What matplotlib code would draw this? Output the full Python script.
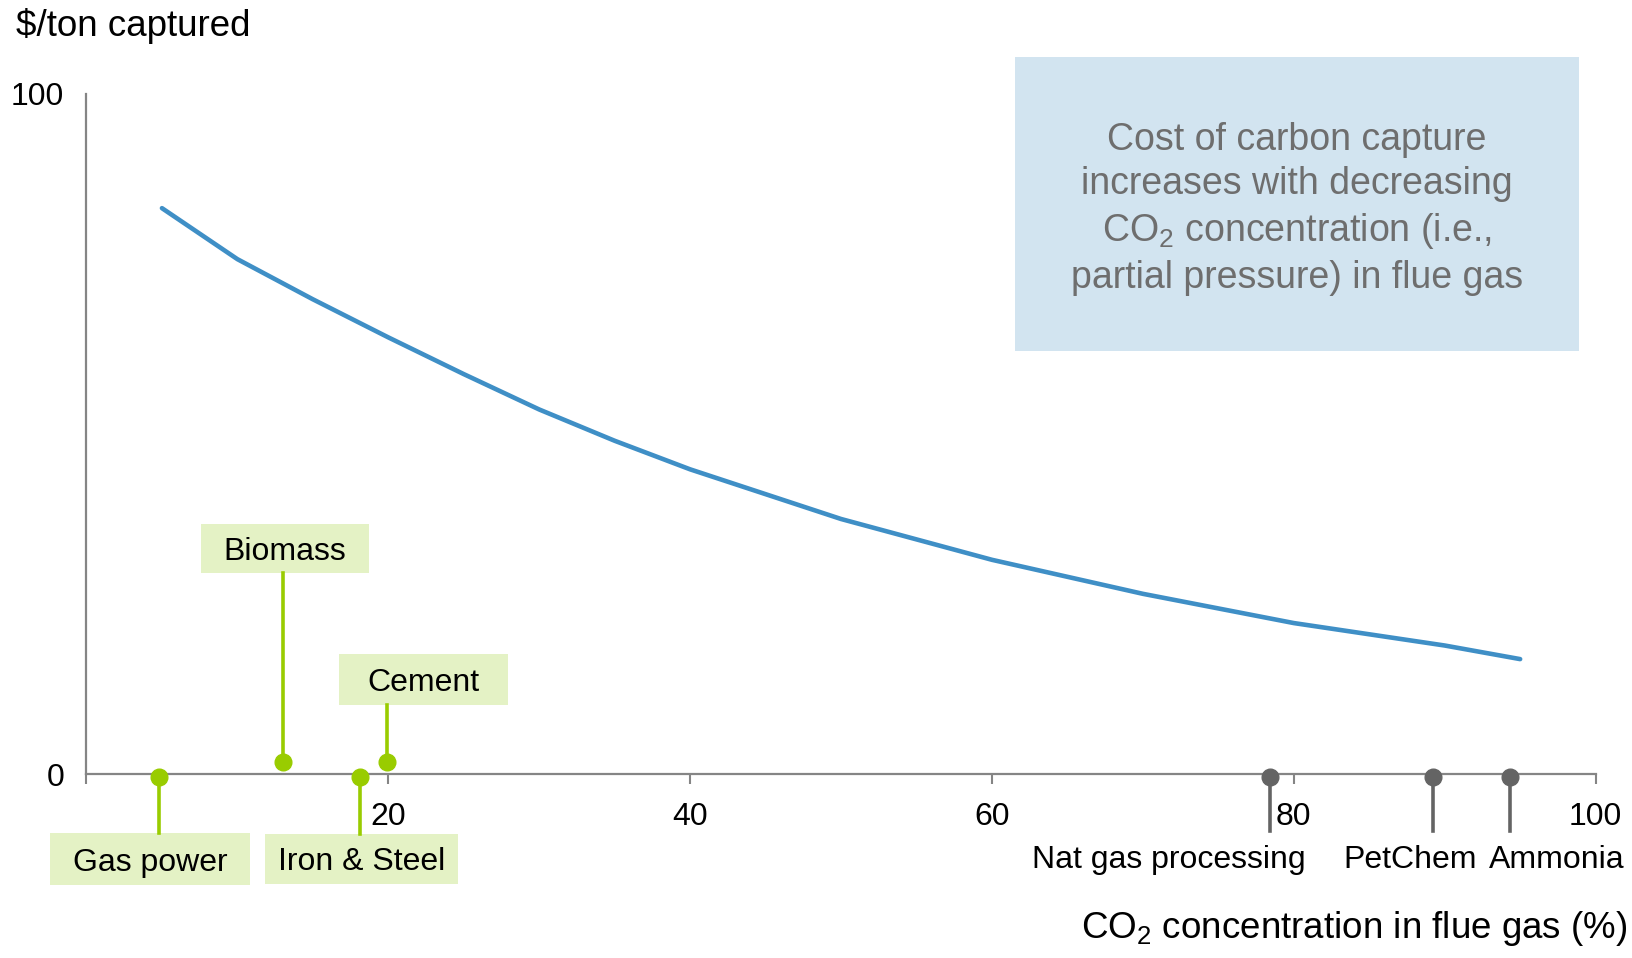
import matplotlib
matplotlib.use("Agg")
import matplotlib.pyplot as plt
from matplotlib.patches import Rectangle

plt.rcParams['font.family'] = ['Liberation Sans', 'DejaVu Sans']
plt.rcParams['mathtext.fontset'] = 'custom'
plt.rcParams['mathtext.rm'] = 'Liberation Sans'
plt.rcParams['mathtext.it'] = 'Liberation Sans'

# cost curve
co2_pct = [5, 10, 15, 20, 25, 30, 35, 40, 50, 60, 70, 80, 90, 95]
cost_per_ton = [83.2, 75.7, 69.8, 64.2, 58.8, 53.6, 49.0, 44.8, 37.5, 31.5,
                26.5, 22.2, 18.9, 16.9]

# emission sources (CO2 % in flue gas)
green_sources = ['Gas power', 'Biomass', 'Iron & Steel', 'Cement']
green_x = [4.8, 13.0, 18.1, 19.9]
grey_sources = ['Nat gas processing', 'PetChem', 'Ammonia']
grey_x = [78.4, 89.2, 94.3]

x_ticks = [0, 20, 40, 60, 80, 100]
x_ticklabels = ['', '20', '40', '60', '80', '100']

# label layout (data units)
green_marker_y = [-0.4, 1.8, -0.4, 1.8]
green_box_xy = [(4.2, -12.5), (13.15, 33.1), (18.25, -12.45), (22.3, 13.85)]
green_box_wh = [(13.3, 7.6), (11.1, 7.2), (12.8, 7.4), (11.2, 7.5)]
grey_marker_y = -0.4
grey_stem_end = -8.4
grey_label_x = [71.7, 87.7, 97.4]
grey_label_y = -12.6

blue = '#3F8FC6'
lime = '#99CC00'
lime_fill = '#E4F2C5'
grey = '#646464'
axis_grey = '#858585'

fig = plt.figure(figsize=(16.32, 9.58), dpi=100)
ax = fig.add_axes([0.053, 0.192, 0.9247, 0.710])

ax.plot(co2_pct, cost_per_ton, color=blue, lw=3.3, solid_capstyle='round',
        solid_joinstyle='round')

# green sources with boxed labels
for name, x, my, (bx, by), (bw, bh) in zip(green_sources, green_x, green_marker_y,
                                          green_box_xy, green_box_wh):
    edge = by + bh / 2 if by < 0 else by - bh / 2
    ax.plot([x, x], [my, edge], color=lime, lw=2.6, clip_on=False, zorder=4)
    ax.plot(x, my, 'o', color=lime, ms=12, clip_on=False, zorder=5)
    ax.add_patch(Rectangle((bx - bw / 2, by - bh / 2), bw, bh, facecolor=lime_fill,
                           edgecolor='none', clip_on=False, zorder=3))
    ax.text(bx, by, name, ha='center', va='center_baseline', fontsize=23,
            color='black', clip_on=False, zorder=6)

# grey sources
for name, x, lx in zip(grey_sources, grey_x, grey_label_x):
    ax.plot([x, x], [grey_marker_y, grey_stem_end], color=grey, lw=2.6,
            clip_on=False, zorder=4)
    ax.plot(x, grey_marker_y, 'o', color=grey, ms=12, clip_on=False, zorder=5)
    ax.text(lx, grey_label_y, name, ha='center', va='center', fontsize=23,
            color='black', clip_on=False)

ax.set_xlim(0, 100)
ax.set_ylim(0, 100)
ax.set_xticks(x_ticks)
ax.set_xticklabels(x_ticklabels)
ax.set_yticks([0, 100])
ax.set_yticklabels(['0', '100'])
ax.tick_params(axis='x', direction='out', length=7, width=1.5, color=axis_grey,
               labelsize=23, pad=13)
ax.tick_params(axis='y', length=0, labelsize=23, pad=16)
for s in ['top', 'right']:
    ax.spines[s].set_visible(False)
for s in ['left', 'bottom']:
    ax.spines[s].set_color(axis_grey)
    ax.spines[s].set_linewidth(1.6)

fig.text(0.0098, 0.992, '$/ton captured', ha='left', va='top', fontsize=26.5)
fig.text(0.997, 0.031, 'CO$_2$ concentration in flue gas (%)', ha='right',
         va='center', fontsize=26.5)

# note box
fig.patches.append(Rectangle((0.6218, 0.634), 0.3457, 0.3064, transform=fig.transFigure,
                             facecolor='#D2E4F0', edgecolor='none', zorder=0))
fig.text(0.7946, 0.782,
         'Cost of carbon capture\nincreases with decreasing\n'
         'CO$_2$ concentration (i.e.,\npartial pressure) in flue gas',
         ha='center', va='center', fontsize=27, color='#6E6E6E', linespacing=1.3)

fig.savefig('out.png', dpi=100)
